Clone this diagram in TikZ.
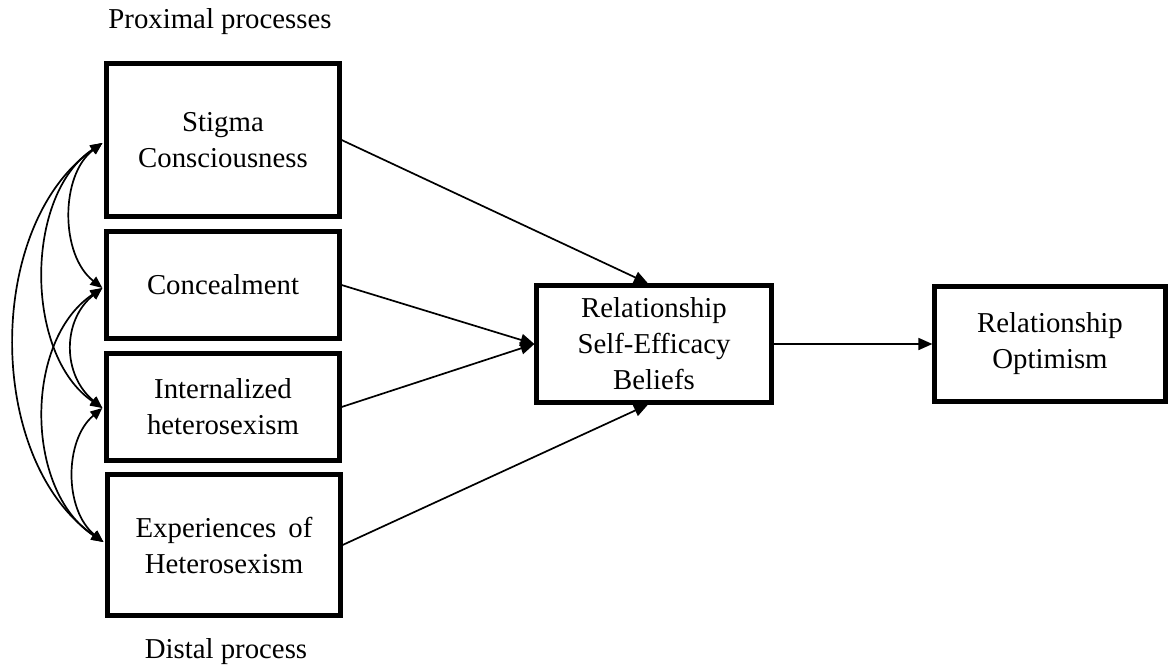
\documentclass[tikz,border=0pt]{standalone}
\usepackage{fontspec}
\setmainfont{Liberation Serif}
\usetikzlibrary{arrows.meta,calc}
\begin{document}
\begin{tikzpicture}[x=1pt,y=-1pt,
  box/.style={draw,line width=4.2pt,align=center,inner sep=0pt,
    font=\fontsize{28.8}{36}\selectfont},
  lbl/.style={font=\fontsize{28.8}{36}\selectfont,inner sep=0pt},
  arr/.style={line width=1.7pt,-{Triangle[length=14pt,width=12pt]}},
  cov/.style={line width=1.7pt,{Triangle[length=12pt,width=10pt]}-{Triangle[length=12pt,width=10pt]}}]
\useasboundingbox (0,0) rectangle (1170,669);
\fill[white] (0,0) rectangle (1170,669);

% exogenous variables
\node[box,minimum width=233pt,minimum height=153pt] (S) at (223,140) {Stigma\\Consciousness};
\node[box,minimum width=233pt,minimum height=107pt] (C) at (223,285) {Concealment};
\node[box,minimum width=233pt,minimum height=107pt] (I) at (223,407) {Internalized\\heterosexism};
\node[box,minimum width=233pt,minimum height=141pt] (E) at (224,545) {Experiences\, of\\Heterosexism};

% mediator and outcome
\node[box,minimum width=235pt,minimum height=117pt] (M) at (654,344) {Relationship\\Self-Efficacy\\Beliefs};
\node[box,minimum width=231pt,minimum height=115pt] (O) at (1050,344) {Relationship\\Optimism};

% group labels
\node[lbl] (prox) at (220,22) {Proximal processes};
\node[lbl] (dist) at (226,652) {Distal process};

% paths to the mediator
\coordinate (Mtop) at ($(M.north)+(-6,0)$);
\coordinate (Mbot) at ($(M.south)+(-6,0)$);
\draw[arr] (S.east) -- (Mtop);
\draw[arr] (C.east) -- (M.west);
\draw[arr] (I.east) -- (M.west);
\draw[arr] (E.east) -- (Mbot);
\draw[arr] (M.east) -- (O.west);

% covariances among the predictors
\coordinate (s) at ($(S.west)+(-2,3)$);
\coordinate (c) at ($(C.west)+(-2,3)$);
\coordinate (i) at ($(I.west)+(-2,1)$);
\coordinate (e) at ($(E.west)+(-2,-3)$);
\draw[cov] (s) .. controls (-15,225) and (-15,460) .. (e);
\draw[cov] (s) .. controls (24,195) and (24,355) .. (i);
\draw[cov] (s) .. controls (60,175) and (60,255) .. (c);
\draw[cov] (c) .. controls (62,320) and (62,375) .. (i);
\draw[cov] (c) .. controls (24,340) and (24,490) .. (e);
\draw[cov] (i) .. controls (64,440) and (64,510) .. (e);
\end{tikzpicture}
\end{document}
